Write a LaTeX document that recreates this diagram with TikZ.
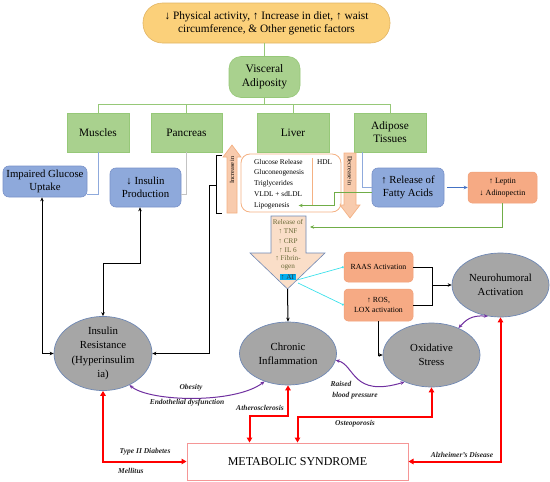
\documentclass[tikz,border=0pt]{standalone}
\usepackage{fontspec}
\setmainfont{Liberation Serif}
\usetikzlibrary{arrows.meta,calc,shapes.geometric}
\newcommand{\myfs}[2]{\fontsize{#1}{#2}\selectfont}
\definecolor{gfill}{RGB}{169,209,142}
\definecolor{gline}{RGB}{150,200,120}
\definecolor{bfill}{RGB}{142,169,219}
\definecolor{bline}{RGB}{120,145,200}
\definecolor{sfill}{RGB}{246,170,132}
\definecolor{sline}{RGB}{240,160,120}
\definecolor{efill}{RGB}{166,166,166}
\definecolor{eline}{RGB}{110,135,180}
\definecolor{ofill}{RGB}{251,208,122}
\definecolor{oline}{RGB}{225,180,100}
\definecolor{pur}{RGB}{112,48,160}
\definecolor{grn}{RGB}{112,173,71}
\definecolor{lblue}{RGB}{143,170,220}
\definecolor{lgrey}{RGB}{195,195,195}
\definecolor{arrblue}{RGB}{68,114,196}
\definecolor{peach}{RGB}{248,203,173}
\definecolor{peachline}{RGB}{244,177,131}
\definecolor{relfill}{RGB}{250,222,200}
\definecolor{olive}{RGB}{105,105,55}
\definecolor{cyanl}{RGB}{60,225,235}
\definecolor{msline}{RGB}{245,150,150}
\definecolor{lbl}{RGB}{35,35,35}
\begin{document}
\begin{tikzpicture}[x=1pt,y=-1pt,
  greenbox/.style={draw=gline, fill=gfill, line width=0.6pt, inner sep=0pt, minimum height=39pt, align=center, font=\myfs{11.3}{13}},
  bluebox/.style={draw=bline, fill=bfill, line width=0.6pt, rounded corners=6pt, inner sep=0pt, align=center, font=\myfs{10.8}{13}},
  salbox/.style={draw=sline, fill=sfill, line width=0.5pt, rounded corners=4pt, inner sep=0pt, align=center, font=\myfs{7.8}{11}},
  ell/.style={ellipse, draw=eline, fill=efill, line width=0.7pt, inner sep=0pt, align=center, font=\myfs{10.8}{14.2}},
  livtext/.style={anchor=west, inner sep=0pt, font=\myfs{7.3}{9}},
  reltext/.style={inner sep=0pt, text=olive, font=\myfs{7.2}{9}},
  lab/.style={inner sep=0pt, text=lbl, font=\myfs{7.5}{9}\bfseries\itshape},
  gconn/.style={draw=gline, line width=0.8pt},
  blk/.style={draw=black, line width=1pt},
  blkarr/.style={draw=black, line width=1pt, -{Stealth[length=4pt,width=3.5pt]}},
  blkdbl/.style={draw=black, line width=1pt, {Stealth[length=4pt,width=3.5pt]}-{Stealth[length=4pt,width=3.5pt]}},
  redarr/.style={draw=red, line width=2pt, {Triangle[length=5pt,width=5.5pt]}-{Triangle[length=5pt,width=5.5pt]}},
  purarr/.style={draw=pur, line width=1pt, {Stealth[length=4pt,width=3.5pt]}-{Stealth[length=4pt,width=3.5pt]}},
]
\useasboundingbox (0,0) rectangle (550,482);

% top factors
\node[draw=oline, fill=ofill, line width=0.6pt, rounded corners=19.5pt, minimum width=247pt, minimum height=40pt, inner sep=0pt, align=center, font=\myfs{11.3}{13}] (top) at (266.5,23)
  {↓ Physical activity, ↑ Increase in diet, ↑ waist\\circumference, \& Other genetic factors};
\node[draw=gline, fill=gfill, line width=0.6pt, rounded corners=12pt, minimum width=71pt, minimum height=41pt, inner sep=0pt, align=center, font=\myfs{11.5}{14}] (visc) at (264.5,77) {Visceral\\Adiposity};

% organ boxes
\node[greenbox, minimum width=62pt] (mus) at (98,132.5) {Muscles};
\node[greenbox, minimum width=71pt] (panc) at (186.5,132.5) {Pancreas};
\node[greenbox, minimum width=72pt] (liv) at (293,132.5) {Liver};
\node[greenbox, minimum width=72pt] (adi) at (390,132.5) {Adipose\\Tissues};

\coordinate (bus) at (264.5,104);
\draw[gconn] (top.south -| visc.north) -- (visc.north);
\draw[gconn] (visc.south) -- (bus);
\draw[gconn] (mus.north) |- (bus);
\draw[gconn] (panc.north) |- (bus);
\draw[gconn] (bus) -| (adi.north);
\draw[gconn] (liv.north) |- (bus);

% blue boxes
\node[bluebox, minimum width=84pt, minimum height=31pt] (ig) at (45,181.5) {Impaired Glucose\\Uptake};
\node[bluebox, minimum width=71pt, minimum height=39pt] (ip) at (145.5,187.5) {↓ Insulin\\Production};
\node[bluebox, minimum width=72pt, minimum height=39pt, font=\myfs{10.8}{13.5}] (fa) at (408,187.5) {↑ Release of\\Fatty Acids};
\node[salbox, minimum width=69pt, minimum height=31pt, font=\myfs{8}{11.5}] (lep) at (502.5,187.5) {↑ Leptin\\↓ Adinopectin};

\draw[draw=lblue, line width=0.8pt] (mus.south) |- ($(ig.south east)+(0,-3)$);
\draw[draw=lgrey, line width=0.8pt] (panc.south) |- ($(ip.east)+(0,7)$);
\draw[draw=lblue, line width=0.8pt] ([xshift=-28pt]adi.south) |- (fa.west);
\draw[draw=arrblue, line width=0.9pt, -{Stealth[length=4pt,width=3.5pt]}] ([xshift=3pt]fa.east) -- (lep.west);

% liver detail box
\node[draw=peachline, line width=0.8pt, rounded corners=9pt, minimum width=100pt, minimum height=58pt, inner sep=0pt] (livbox) at (291,183) {};
\draw[draw=peachline, line width=0.8pt] (312,158) -- (312,205);
\node[livtext] (l1) at (254,162) {Glucose Release};
\node[livtext] (l2) at (254,172.5) {Gluconeogenesis};
\node[livtext] (l3) at (254,183.5) {Triglycerides};
\node[livtext] (l4) at (254,194.5) {VLDL + sdLDL};
\node[livtext] (lipo) at (254,205.5) {Lipogenesis};
\node[livtext] (hdl) at (317,162) {HDL};

\draw[draw=peachline, fill=peach, line width=0.7pt] (227,213) -- (227,157) -- (223,157) -- (232,145) -- (241,157) -- (237,157) -- (237,213) -- cycle;
\node[rotate=90, inner sep=0pt, font=\myfs{6.3}{7}] (inc) at (232,170) {Increase in};
\draw[draw=peachline, fill=peach, line width=0.7pt] (344,153) -- (356,153) -- (356,205) -- (360,205) -- (350,218) -- (340,205) -- (344,205) -- cycle;
\node[rotate=-90, inner sep=0pt, font=\myfs{6.3}{7}] (dec) at (350,171) {Decrease in};

% bracket
\draw[blk] (222,155) -- (216,155) -- (216,213) -- (222,213);
\coordinate (brm) at (216,185);

% green connectors
\draw[draw=grn, line width=1pt, -{Stealth[length=4pt,width=3.5pt]}] ($(fa.west)+(0,4.5)$) -- ++(-37,0) |- ([xshift=9pt]lipo.east);

% release arrow
\draw[draw=eline, fill=relfill, line width=0.6pt] (271,216) -- (306,216) -- (306,253) -- (325,253) -- (287.5,289) -- (250,253) -- (271,253) -- cycle;
\coordinate (reltip) at (287.5,289);
\coordinate (relR) at (306,227);
\node[reltext] (r1) at (288,222) {Release of};
\node[reltext] (r2) at (288,231.5) {↑ TNF};
\node[reltext] (r3) at (288,241) {↑ CRP};
\node[reltext] (r4) at (288,250) {↑ IL 6};
\node[reltext] (r5) at (288,258.5) {↑ Fibrin-};
\node[reltext] (r6) at (288,267.5) {ogen};
\node[reltext, fill=cyan, text=black!80, inner sep=0.8pt] (r7) at (288,277) {↑ AT};

\draw[draw=grn, line width=1pt, -{Stealth[length=4pt,width=3.5pt]}] (lep.south) |- ([xshift=4pt]relR);

% salmon activation boxes
\node[salbox, minimum width=69pt, minimum height=30pt] (raas) at (378.5,267) {RAAS Activation};
\node[salbox, minimum width=69pt, minimum height=32pt, font=\myfs{7.8}{10.5}] (ros) at (378.5,305) {↑ ROS,\\LOX activation};
\draw[draw=cyanl, line width=0.7pt, -{Circle[length=2pt]}] (297,280) -- (raas.west);
\draw[draw=cyanl, line width=0.7pt, -{Circle[length=2pt]}] (298,283) -- (ros.west);

% ellipses
\node[ell, minimum width=98pt, minimum height=63pt] (ir) at (103,353.5) {Insulin\\Resistance\\(Hyperinsulim\\ia)};
\node[ell, minimum width=97pt, minimum height=63pt] (ci) at (288,353.5) {Chronic\\Inflammation};
\node[ell, minimum width=97pt, minimum height=64pt] (os) at (431.5,355) {Oxidative\\Stress};
\node[ell, minimum width=97pt, minimum height=64pt] (nh) at (500.5,285) {Neurohumoral\\Activation};

% black connectors
\draw[blkarr] (brm) -- ++(-7,0) |- (ir.east);
\draw[blkdbl] ([xshift=-3pt]ig.south) |- (ir.west);
\draw[blkdbl] ([xshift=-5.5pt]ip.south) -- ++(0,56) -| (ir.north);
\draw[blkarr] (reltip) -- (ci.north);
\coordinate (jn) at (432,285);
\draw[blk] (raas.east) -| (jn);
\draw[blk] (ros.east) -| (jn);
\draw[blkarr] (jn) -- (nh.west);
\draw[blkarr] (ros.south) |- (os.west);

% purple curves
\draw[purarr] (ir.-50) .. controls (150,402) and (235,404) .. (ci.-130);
\draw[purarr] (ci.-8) .. controls (355,365) and (352,398) .. (os.-135);
\draw[purarr] (os.45) .. controls (466,320) and (471,315) .. (nh.-112);
\node[lab] (ob) at (191,388) {Obesity};
\node[lab] (ed) at (187,403) {Endothelial dysfunction};
\node[lab] (rs) at (341,384) {Raised};
\node[lab] (bp) at (355,396) {blood pressure};

% metabolic syndrome
\node[draw=msline, fill=white, line width=1pt, minimum width=221pt, minimum height=37pt, inner sep=0pt, font=\myfs{12}{14}] (ms) at (297.5,461.5) {METABOLIC SYNDROME};

\draw[redarr] (ir.south) |- (ms.west);
\draw[redarr] (ci.south) -- ++(0,31) -| ($(ms.north west)+(63,0)$);
\draw[redarr] (os.south) -- ++(0,30) -| (ms.north);
\draw[redarr] (nh.south) |- (ms.east);

\node[lab] (t2) at (145,452) {Type II Diabetes};
\node[lab, anchor=west] (mel) at (118,471) {Mellitus};
\node[lab] (ath) at (260,408) {Atherosclerosis};
\node[lab] (ost) at (355,424) {Osteoporosis};
\node[lab] (alz) at (462,455) {Alzheimer’s Disease};
\end{tikzpicture}
\end{document}
